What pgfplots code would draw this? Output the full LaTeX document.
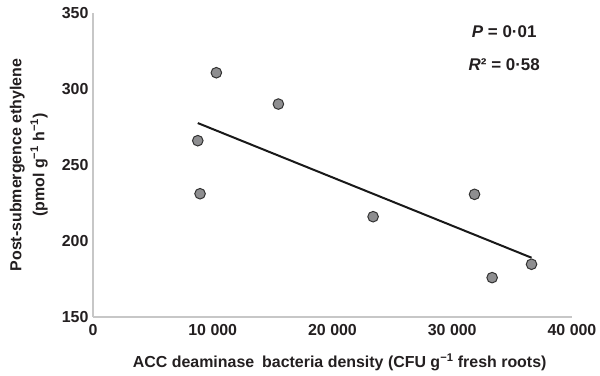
\documentclass[border=0pt]{standalone}
\usepackage{pgfplots}
\pgfplotsset{compat=1.18}
\usepackage{fontspec}
\setmainfont{Liberation Sans}
\definecolor{txt}{HTML}{231F20}
\definecolor{ptfill}{HTML}{8E8E90}
\begin{document}
\begin{tikzpicture}[x=1bp,y=1bp]
\begin{axis}[
  scale only axis, width=479bp, height=304bp,
  xmin=0, xmax=40000, ymin=150, ymax=350,
  scaled ticks=false,
  axis x line*=bottom, axis y line*=left,
  axis line style={-, draw=black!22, line width=1.2bp},
  xtick={0,10000,20000,30000,40000},
  xticklabels={0,10 000,20 000,30 000,40 000},
  ytick={150,200,250,300,350},
  yticklabels={150,200,250,300,350},
  major tick length=0pt,
  /pgf/number format/assume math mode=true,
  tick label style={font=\fontsize{16}{18}\selectfont\bfseries, text=txt},
  xticklabel style={yshift=-4bp},
  yticklabel style={xshift=-1bp},
  xlabel={ACC deaminase\hspace{0.5em}bacteria density (CFU g\textsuperscript{−1} fresh roots)},
  xlabel style={at={(axis description cs:0.515,-0.15)}, anchor=center, font=\fontsize{16}{18}\selectfont\bfseries, text=txt},
  ylabel={Post-submergence ethylene\\(pmol g\textsuperscript{−1} h\textsuperscript{−1})},
  ylabel style={at={(axis description cs:-0.134,0.5)}, anchor=center, rotate=0, align=center, font=\fontsize{16}{23}\selectfont\bfseries, text=txt},
  clip=false,
]
\addplot[only marks, mark=*, mark size=5.3bp, mark options={fill=ptfill, draw=black!80, line width=1bp}]
  coordinates {(8750,266) (10300,310.7) (8940,231.1) (15480,290.1) (31860,230.7) (23390,216) (33330,175.9) (36620,184.7)};
\addplot[black!90, line width=2bp] coordinates {(8750,277.6) (36620,189)};
\node[font=\fontsize{17}{19}\selectfont\bfseries, text=txt] at (axis cs:34340,337.5) {\textit{P} = 0·01};
\node[font=\fontsize{17}{19}\selectfont\bfseries, text=txt] at (axis cs:34340,315.8) {\textit{R}² = 0·58};
\end{axis}
\path[use as bounding box] (-93,-58) rectangle (507,317);
\end{tikzpicture}
\end{document}
